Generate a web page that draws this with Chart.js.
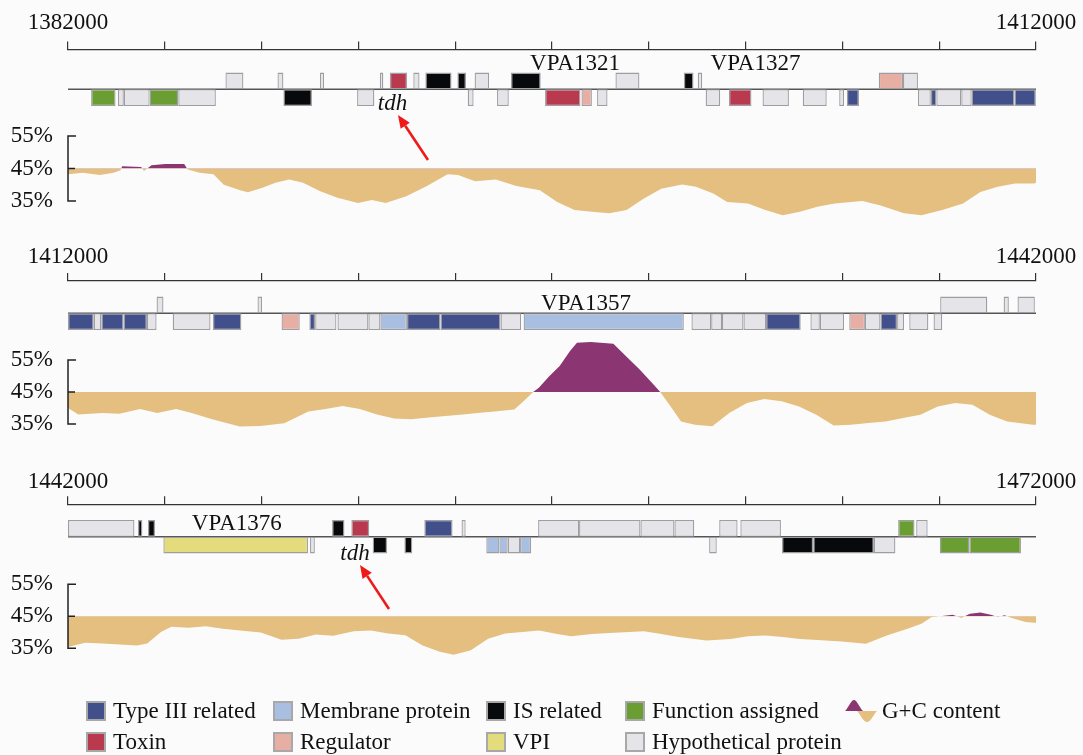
<!DOCTYPE html>
<html><head><meta charset="utf-8">
<script src="https://cdn.jsdelivr.net/npm/chart.js@4.4.1/dist/chart.umd.min.js"></script>
<style>
html,body{margin:0;padding:0;background:#fbfbfb;}
#wrap{position:relative;width:1083px;height:755px;overflow:hidden;font-family:"Liberation Serif","Times New Roman",serif;color:#111;}
#wrap canvas{position:absolute;left:0;}
.leg{position:absolute;font-size:23px;line-height:26px;white-space:nowrap;color:#111;}
.sw{position:absolute;width:16px;height:16px;border:2px solid #a8a8a8;box-sizing:content-box;}
</style></head><body><div id="wrap"></div>
<script>
// ---------------- DATA ----------------
const panelStarts = [1382000, 1412000, 1442000];
const panelSpan = 30000;
const tickStep = 3000;
const gcTickValues = [35, 45, 55];

const categoryKeys   = ['t3', 'mem', 'is', 'func', 'tox', 'reg', 'vpi', 'hyp'];
const categoryNames  = ['Type III related', 'Membrane protein', 'IS related', 'Function assigned',
                        'Toxin', 'Regulator', 'VPI', 'Hypothetical protein'];
const categoryColors = ['#41508a', '#a9bfe2', '#07090b', '#6a9e32', '#b93a4f', '#e7afa3', '#e4dc7c', '#e5e5e9'];
const gcAboveColor = '#8b3672';
const gcBelowColor = '#e4bf80';

// genes: [start, end, strand(+1 forward / -1 reverse), category]
const genes1 = [
  [1382716,1383474,-1,'func'],[1383549,1383730,-1,'hyp'],[1383730,1384531,-1,'hyp'],[1384531,1385418,-1,'func'],
  [1385418,1386582,-1,'hyp'],[1386880,1387436,1,'hyp'],[1388493,1388675,1,'hyp'],[1388675,1389561,-1,'is'],
  [1389807,1389935,1,'hyp'],[1390960,1391494,-1,'hyp'],[1391665,1391772,1,'hyp'],[1391975,1392509,1,'tox'],
  [1392702,1392894,1,'hyp'],[1393075,1393887,1,'is'],[1394068,1394335,1,'is'],[1394388,1394570,-1,'hyp'],
  [1394602,1395051,1,'hyp'],[1395297,1395660,-1,'hyp'],[1395729,1396650,1,'is'],[1396785,1397882,-1,'tox'],
  [1397914,1398236,-1,'reg'],[1398397,1398720,-1,'hyp'],[1398967,1399709,1,'hyp'],[1401085,1401386,1,'is'],
  [1401515,1401655,1,'hyp'],[1401762,1402213,-1,'hyp'],[1402483,1403181,-1,'tox'],[1403525,1404342,-1,'hyp'],
  [1404772,1405514,-1,'hyp'],[1405901,1406051,-1,'hyp'],[1406137,1406514,-1,'t3'],[1407127,1407879,1,'reg'],
  [1407879,1408341,1,'hyp'],[1408341,1408739,-1,'hyp'],[1408739,1408911,-1,'t3'],[1408911,1409685,-1,'hyp'],
  [1409685,1410007,-1,'hyp'],[1410007,1411330,-1,'t3'],[1411330,1411996,-1,'t3']
];
const genes2 = [
  [1412000,1412798,-1,'t3'],[1412798,1413032,-1,'hyp'],[1413032,1413724,-1,'t3'],[1413724,1414447,-1,'t3'],
  [1414447,1414745,-1,'hyp'],[1414745,1414958,1,'hyp'],[1415245,1416416,-1,'hyp'],[1416490,1417373,-1,'t3'],
  [1417873,1418012,1,'hyp'],[1418618,1419182,-1,'reg'],[1419480,1419661,-1,'t3'],[1419661,1420320,-1,'hyp'],
  [1420352,1421310,-1,'hyp'],[1421310,1421682,-1,'hyp'],[1421682,1422502,-1,'mem'],[1422502,1423544,-1,'t3'],
  [1423544,1425406,-1,'t3'],[1425406,1426044,-1,'hyp'],[1426120,1431085,-1,'mem'],[1431322,1431934,-1,'hyp'],
  [1431934,1432268,-1,'hyp'],[1432268,1432934,-1,'hyp'],[1432934,1433633,-1,'hyp'],[1433633,1434708,-1,'t3'],
  [1435009,1435300,-1,'hyp'],[1435300,1436052,-1,'hyp'],[1436213,1436697,-1,'reg'],[1436697,1437180,-1,'hyp'],
  [1437180,1437696,-1,'t3'],[1437696,1437911,-1,'hyp'],[1438072,1438664,-1,'hyp'],[1438825,1439094,-1,'hyp'],
  [1439030,1440491,1,'hyp'],[1440997,1441158,1,'hyp'],[1441427,1441964,1,'hyp']
];
const genes3 = [
  [1442000,1444059,1,'hyp'],[1444166,1444305,1,'is'],[1444475,1444700,1,'is'],[1444956,1449437,-1,'vpi'],
  [1449501,1449650,-1,'hyp'],[1450184,1450568,1,'is'],[1450781,1451336,1,'tox'],[1451443,1451891,-1,'is'],
  [1452425,1452670,-1,'is'],[1453043,1453918,1,'t3'],[1454196,1454324,1,'hyp'],[1454964,1455370,-1,'mem'],
  [1455370,1455626,-1,'mem'],[1455626,1456010,-1,'hyp'],[1456010,1456351,-1,'mem'],[1456570,1457839,1,'hyp'],
  [1457839,1459741,1,'hyp'],[1459741,1460795,1,'hyp'],[1460795,1461408,1,'hyp'],[1461870,1462106,-1,'hyp'],
  [1462182,1462751,1,'hyp'],[1462837,1464095,1,'hyp'],[1464127,1465095,-1,'is'],[1465095,1466976,-1,'is'],
  [1466976,1467642,-1,'hyp'],[1467728,1468234,1,'func'],[1468287,1468642,1,'hyp'],[1469018,1469932,-1,'func'],
  [1469932,1471534,-1,'func']
];

// G+C content (%) sampled along each window: positions and values
const gcPos1 = [1382000,1382453,1382987,1383414,1383627,1383680,1384267,1384353,1384587,1385014,1385601,1385708,
  1386081,1386508,1386828,1387362,1387575,1388002,1388429,1388856,1389283,1389816,1390350,1390990,1391417,1391844,
  1392484,1393124,1393765,1394085,1394618,1395258,1395898,1396624,1397161,1397699,1398236,1398774,1399311,1399849,
  1400386,1401031,1401461,1401999,1402429,1403074,1403611,1404149,1404686,1405224,1405761,1406621,1407159,1407911,
  1408449,1409094,1409739,1410276,1410814,1411351,1411943,1412000];
const gcVal1 = [43.2,43.7,43.0,43.7,44.5,45.7,45.5,44.2,46.0,46.4,46.4,44.7,
  43.7,43.2,40.0,38.2,37.7,39.0,40.6,41.6,40.6,38.0,36.0,34.4,35.3,34.4,
  36.5,39.6,43.2,43.0,41.1,41.6,39.6,38.3,34.7,32.2,31.7,31.2,32.2,35.8,
  38.8,40.1,39.4,37.3,34.7,34.2,32.2,30.6,31.7,33.2,34.2,35.0,33.7,31.2,
  30.6,32.2,34.2,37.8,39.4,40.4,40.4,40.6];
const gcPos2 = [1412000,1412320,1413064,1413596,1414234,1414766,1415352,1415830,1416469,1417320,1417958,1418703,
  1419448,1419980,1420512,1421044,1421576,1422108,1422640,1423172,1423704,1424236,1424768,1425300,1425832,1426151,
  1426417,1426592,1426914,1427237,1427559,1427774,1428204,1428903,1429279,1429709,1430139,1430354,1430677,1430999,
  1431429,1431967,1432504,1433042,1433579,1434117,1434654,1435192,1435729,1436267,1436804,1437342,1437879,1438417,
  1438954,1439492,1440029,1440567,1441104,1441910,1442000];
const gcVal2 = [40.0,38.0,38.4,38.2,39.7,38.4,39.7,38.4,36.5,34.2,34.4,35.2,
  38.9,39.7,40.6,39.7,38.0,36.7,36.5,37.0,37.5,38.0,38.5,39.0,39.5,42.4,
  45.0,46.3,49.9,53.1,57.8,60.4,60.6,60.1,56.3,52.1,47.4,45.0,40.5,35.8,
  34.8,34.3,38.5,41.6,42.8,42.1,40.5,37.9,34.5,34.8,35.3,35.8,36.9,37.9,
  40.5,41.6,41.0,37.9,35.8,34.8,34.8];
const gcPos3 = [1442000,1442534,1443067,1444134,1444454,1444881,1445201,1445735,1446268,1446802,1447335,1447975,
  1448615,1449149,1449682,1450216,1450856,1451390,1451923,1452457,1452990,1453524,1453951,1454485,1455018,1455552,
  1456086,1456598,1457161,1457591,1458236,1458774,1459849,1460386,1460924,1461784,1462536,1463074,1463611,1464149,
  1464686,1465224,1465976,1466729,1467374,1468019,1468449,1468771,1469094,1469416,1469685,1469954,1470276,1470599,
  1470814,1471029,1471244,1471674,1471943,1472000];
const gcVal3 = [35.4,36.7,36.5,35.9,36.5,40.1,41.7,41.4,41.9,41.1,40.6,39.9,
  37.7,38.0,39.3,38.9,40.3,40.6,39.6,39.1,35.9,33.9,33.0,34.4,38.0,39.6,
  40.1,40.6,39.5,38.8,39.5,39.8,40.3,39.5,38.5,37.4,37.9,38.8,39.0,38.5,
  37.9,37.6,37.1,36.4,39.0,41.1,42.7,44.8,45.1,45.5,44.5,45.8,46.2,45.5,
  44.8,45.3,44.5,43.2,43.0,43.0];

// gene labels: [text, position (bp), height in strand units (line=0), italic]
const labels1 = [['VPA1321',1397713,1.16,false],['VPA1327',1403306,1.16,false],['tdh',1392056,-1.24,true]];
const labels2 = [['VPA1357',1428053,0.2,false]];
const labels3 = [['VPA1376',1447231,0.4,false],['tdh',1450894,-1.4,true]];

// ---------------- LAYOUT ----------------
const W = 1083, plotLeft = 68, plotRight = 1036;
const boxH = 16.7;
const fontFamily = '"Liberation Serif","Times New Roman",serif';
const geom = [
  {geneTop:0,   labelPad:5.2, axisY:49.5,  lineY:89.3,  y55:136,   y35:201},
  {geneTop:240, labelPad:2.6, axisY:281,   lineY:313.3, y55:360,   y35:424},
  {geneTop:463, labelPad:0.8, axisY:504.3, lineY:536.7, y55:584.3, y35:648.3}
];
const gcMin = 28, gcMax = 62;
const panels = [
  {genes:genes1, pos:gcPos1, val:gcVal1, labels:labels1},
  {genes:genes2, pos:gcPos2, val:gcVal2, labels:labels2},
  {genes:genes3, pos:gcPos3, val:gcVal3, labels:labels3}
];

const wrap = document.getElementById('wrap');
function makeCanvas(top, h) {
  const c = document.createElement('canvas');
  c.width = W; c.height = h; c.style.top = top + 'px'; c.style.width = W + 'px'; c.style.height = h + 'px';
  wrap.appendChild(c);
  return c;
}

const geneLabelPlugin = {
  id: 'geneLabels',
  afterDatasetsDraw(chart, args, opts) {
    const ctx = chart.ctx, xs = chart.scales.x, ys = chart.scales.y;
    ctx.save();
    ctx.fillStyle = '#111';
    ctx.textAlign = 'center';
    ctx.textBaseline = 'alphabetic';
    for (const [t, bp, yu, it] of opts.items) {
      ctx.font = (it ? 'italic ' : '') + '23px ' + fontFamily;
      ctx.fillText(t, xs.getPixelForValue(bp), ys.getPixelForValue(yu));
    }
    ctx.restore();
  }
};

const bracketPlugin = {
  id: 'bracket',
  afterDatasetsDraw(chart) {
    const ctx = chart.ctx, ys = chart.scales.y, x0 = chart.chartArea.left;
    const t = ys.getPixelForValue(gcTickValues[2]), m = ys.getPixelForValue(gcTickValues[1]), b = ys.getPixelForValue(gcTickValues[0]);
    ctx.save();
    ctx.strokeStyle = '#222'; ctx.lineWidth = 1.5;
    ctx.beginPath();
    ctx.moveTo(x0 + 8, t); ctx.lineTo(x0, t); ctx.lineTo(x0, b); ctx.lineTo(x0 + 8, b);
    ctx.moveTo(x0, m); ctx.lineTo(x0 + 7, m);
    ctx.stroke();
    ctx.restore();
  }
};

panels.forEach((p, i) => {
  const g = geom[i];
  const start = panelStarts[i], end = start + panelSpan;
  const tickVals = [];
  for (let v = start; v <= end; v += tickStep) tickVals.push(v);

  // ---- gene track ----
  const geneH = 130;
  const gc = makeCanvas(g.geneTop, geneH);
  const yMax = (g.lineY - g.axisY) / boxH;
  const yMin = -(g.geneTop + geneH - g.lineY) / boxH;
  const datasets = categoryKeys.map((k, ci) => ({
    type: 'bar',
    label: categoryNames[ci],
    data: p.genes.filter(r => r[3] === k).map(r => ({x: [r[0], r[1]], y: r[2] * 0.5})),
    backgroundColor: categoryColors[ci],
    borderColor: '#9e9ea2',
    borderWidth: 1.3,
    borderSkipped: false,
    inflateAmount: 0,
    barPercentage: 1,
    categoryPercentage: 1,
    grouped: false,
    order: 0
  }));
  datasets.push({
    type: 'line',
    data: [{x: start, y: 0}, {x: end, y: 0}],
    borderColor: '#555',
    borderWidth: 1.5,
    pointRadius: 0,
    fill: false,
    order: 10
  });
  new Chart(gc, {
    type: 'bar',
    data: {datasets},
    options: {
      indexAxis: 'y',
      responsive: false, animation: false, devicePixelRatio: 1,
      layout: {autoPadding: false, padding: {left: plotLeft, right: W - plotRight, top: 0, bottom: 0}},
      plugins: {legend: {display: false}, tooltip: {enabled: false}, geneLabels: {items: p.labels}},
      scales: {
        x: {
          type: 'linear', position: 'top', min: start, max: end,
          afterBuildTicks: s => { s.ticks = tickVals.map(v => ({value: v})); },
          afterFit: s => { s.height = g.axisY - g.geneTop; s.paddingLeft = 0; s.paddingRight = 0; },
          ticks: {autoSkip: false, maxRotation: 0, padding: g.labelPad, color: '#111',
                  font: {family: fontFamily, size: 23},
                  callback: v => (v === start || v === end) ? String(v) : ''},
          grid: {drawOnChartArea: false, drawTicks: true, tickLength: 8, color: '#333', lineWidth: 1.2},
          border: {display: true, color: '#333', width: 1.2}
        },
        y: {
          type: 'linear', display: false, min: yMin, max: yMax, offset: false,
          afterBuildTicks: s => { s.ticks = [{value: 0}]; }
        }
      }
    },
    plugins: [geneLabelPlugin]
  });

  // ---- G+C content ----
  const ppp = (g.y35 - g.y55) / 20;
  const areaTop = g.y55 - (gcMax - 55) * ppp;
  const areaBot = g.y35 + (35 - gcMin) * ppp;
  const cTop = Math.floor(areaTop), cBot = Math.ceil(areaBot);
  const gcc = makeCanvas(cTop, cBot - cTop);
  new Chart(gcc, {
    type: 'line',
    data: {datasets: [{
      data: p.pos.map((x, j) => ({x, y: p.val[j]})),
      borderColor: 'transparent', borderWidth: 0, pointRadius: 0, tension: 0,
      fill: {target: {value: 45}, above: gcAboveColor, below: gcBelowColor}
    }]},
    options: {
      responsive: false, animation: false, devicePixelRatio: 1,
      layout: {autoPadding: false, padding: {left: 0, right: W - plotRight, top: areaTop - cTop, bottom: cBot - areaBot}},
      plugins: {legend: {display: false}, tooltip: {enabled: false}},
      scales: {
        x: {type: 'linear', display: false, min: start, max: end},
        y: {
          type: 'linear', min: gcMin, max: gcMax,
          afterBuildTicks: s => { s.ticks = gcTickValues.map(v => ({value: v})); },
          afterFit: s => { s.width = plotLeft; s.paddingTop = 0; s.paddingBottom = 0; },
          ticks: {padding: 15, color: '#111', font: {family: fontFamily, size: 23}, callback: v => v + '%'},
          grid: {display: false, drawTicks: false},
          border: {display: false}
        }
      }
    },
    plugins: [bracketPlugin]
  });
});

// ---------------- arrows pointing at tdh ----------------
const arrows = [[428, 160, 398, 115], [389, 609, 360, 565]];
let svg = '<svg width="1083" height="755" style="position:absolute;left:0;top:0;pointer-events:none">';
for (const [x1, y1, x2, y2] of arrows) {
  const dx = x2 - x1, dy = y2 - y1, L = Math.hypot(dx, dy), ux = dx / L, uy = dy / L;
  const hl = 13, hw = 5.5, bx = x2 - ux * hl, by = y2 - uy * hl;
  svg += `<line x1="${x1}" y1="${y1}" x2="${bx}" y2="${by}" stroke="#ee1a1a" stroke-width="2.6"/>`;
  svg += `<polygon fill="#ee1a1a" points="${x2},${y2} ${bx - uy * hw},${by + ux * hw} ${bx + uy * hw},${by - ux * hw}"/>`;
}
svg += '</svg>';
wrap.insertAdjacentHTML('beforeend', svg);

// ---------------- legend ----------------
const legendRows = [
  {y: 711, items: [['t3', 86], ['mem', 273], ['is', 486], ['func', 625], ['gc', 845]]},
  {y: 742, items: [['tox', 86], ['reg', 273], ['vpi', 486], ['hyp', 625]]}
];
let lg = '';
for (const row of legendRows) {
  for (const [k, x] of row.items) {
    if (k === 'gc') {
      lg += `<svg style="position:absolute;left:${x}px;top:${row.y - 12}px" width="32" height="24">
        <path d="M0,12 C4,8 6,1 9,1 C12,1 14,8 18,12 Z" fill="${gcAboveColor}"/>
        <path d="M12,12 C16,16 18,23 22,23 C26,23 28,16 32,12 Z" fill="${gcBelowColor}"/></svg>`;
      lg += `<div class="leg" style="left:${x + 37}px;top:${row.y - 13}px">G+C content</div>`;
    } else {
      const ci = categoryKeys.indexOf(k);
      lg += `<div class="sw" style="left:${x}px;top:${row.y - 10}px;background:${categoryColors[ci]}"></div>`;
      lg += `<div class="leg" style="left:${x + 27}px;top:${row.y - 13}px">${categoryNames[ci]}</div>`;
    }
  }
}
wrap.insertAdjacentHTML('beforeend', lg);
</script>
</body></html>
